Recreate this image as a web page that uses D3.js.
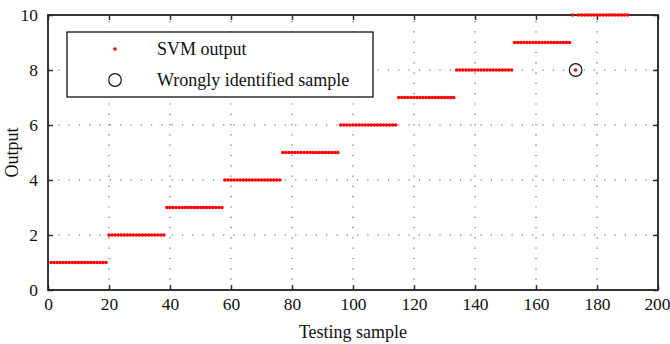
<!DOCTYPE html>
<html><head><meta charset="utf-8">
<script src="https://cdn.jsdelivr.net/npm/d3@7"></script>
<style>body{margin:0;background:#fff}svg{display:block}text{font-family:"Liberation Serif","Times New Roman",serif;fill:#111}</style>
</head><body><svg id="c" width="670" height="344"></svg>
<script>
// Class label for each block of 19 testing samples
const classes = [1,2,3,4,5,6,7,8,9,10];
const classStart = [1,20,39,58,77,96,115,134,153,172];
const classEnd   = [19,38,57,76,95,114,133,152,171,190];
// Misclassified sample: index and predicted output
const wrongSample = [173];
const wrongOutput = [8];
const xTicks = [0,20,40,60,80,100,120,140,160,180,200];
const yTicks = [0,2,4,6,8,10];

const samples = [];
classes.forEach((c,i)=>{
  for(let s=classStart[i]; s<=classEnd[i]; s++){
    const w = wrongSample.indexOf(s);
    samples.push({x:s, y: w>=0 ? wrongOutput[w] : c});
  }
});
const wrong = wrongSample.map((s,i)=>({x:s,y:wrongOutput[i]}));

const svg = d3.select("#c");
const L=48,R=658,T=15,B=290;
const x = d3.scaleLinear().domain([0,200]).range([L,R]);
const y = d3.scaleLinear().domain([0,10]).range([B,T]);

// grid
const g = svg.append("g");
g.selectAll(".gx").data(xTicks.slice(1,-1)).enter().append("line")
 .attr("x1",d=>x(d)).attr("x2",d=>x(d)).attr("y1",B).attr("y2",T)
 .attr("stroke","#555").attr("stroke-width",1.1).attr("stroke-dasharray","1.2,9.1");
g.selectAll(".gy").data(yTicks.slice(1,-1)).enter().append("line")
 .attr("x1",L).attr("x2",R).attr("y1",d=>y(d)).attr("y2",d=>y(d))
 .attr("stroke","#555").attr("stroke-width",1.1).attr("stroke-dasharray","1.2,9.1");

// axes
const ax = svg.append("g").attr("transform",`translate(0,${B})`).call(d3.axisBottom(x).tickValues(xTicks).tickSize(-5).tickPadding(8));
const axT = svg.append("g").attr("transform",`translate(0,${T})`).call(d3.axisTop(x).tickValues(xTicks).tickSize(-5).tickFormat(""));
const ay = svg.append("g").attr("transform",`translate(${L},0)`).call(d3.axisLeft(y).tickValues(yTicks).tickSize(-5).tickPadding(10));
const ayR = svg.append("g").attr("transform",`translate(${R},0)`).call(d3.axisRight(y).tickValues(yTicks).tickSize(-5).tickFormat(""));
[ax,axT,ay,ayR].forEach(a=>{
  a.select(".domain").remove();
  a.selectAll("line").attr("stroke","#333").attr("stroke-width",1.5);
  a.selectAll("text").style("font-family",'"Liberation Serif",serif').style("font-size","17.4px").attr("fill","#111");
});
ax.selectAll(".tick text").filter(d=>d===200).attr("text-anchor","end").attr("dx","12");
svg.append("rect").attr("x",L).attr("y",T).attr("width",R-L).attr("height",B-T)
 .attr("fill","none").attr("stroke","#222").attr("stroke-width",1.8);

// data
svg.append("g").selectAll("circle").data(samples).enter().append("circle")
 .attr("cx",d=>x(d.x)).attr("cy",d=>y(d.y)).attr("r",1.8).attr("fill","#ff0000");
svg.append("g").selectAll("circle").data(wrong).enter().append("circle")
 .attr("cx",d=>x(d.x)).attr("cy",d=>y(d.y)).attr("r",6.3).attr("fill","none").attr("stroke","#111").attr("stroke-width",1.2);

// labels
svg.append("text").attr("x",(L+R)/2).attr("y",338).attr("text-anchor","middle").style("font-size","18px").text("Testing sample");
svg.append("text").attr("transform",`translate(18,${(T+B)/2}) rotate(-90)`).attr("text-anchor","middle").style("font-size","18px").text("Output");

// legend
const lg = svg.append("g");
lg.append("rect").attr("x",67).attr("y",32).attr("width",306).attr("height",65).attr("fill","#fff").attr("stroke","#111").attr("stroke-width",1.3);
lg.append("circle").attr("cx",115).attr("cy",49).attr("r",1.8).attr("fill","#ff0000");
lg.append("circle").attr("cx",115).attr("cy",80).attr("r",6.3).attr("fill","none").attr("stroke","#111").attr("stroke-width",1.2);
lg.append("text").attr("x",157).attr("y",55).style("font-size","18px").text("SVM output");
lg.append("text").attr("x",157).attr("y",86).style("font-size","18px").text("Wrongly identified sample");
</script></body></html>
